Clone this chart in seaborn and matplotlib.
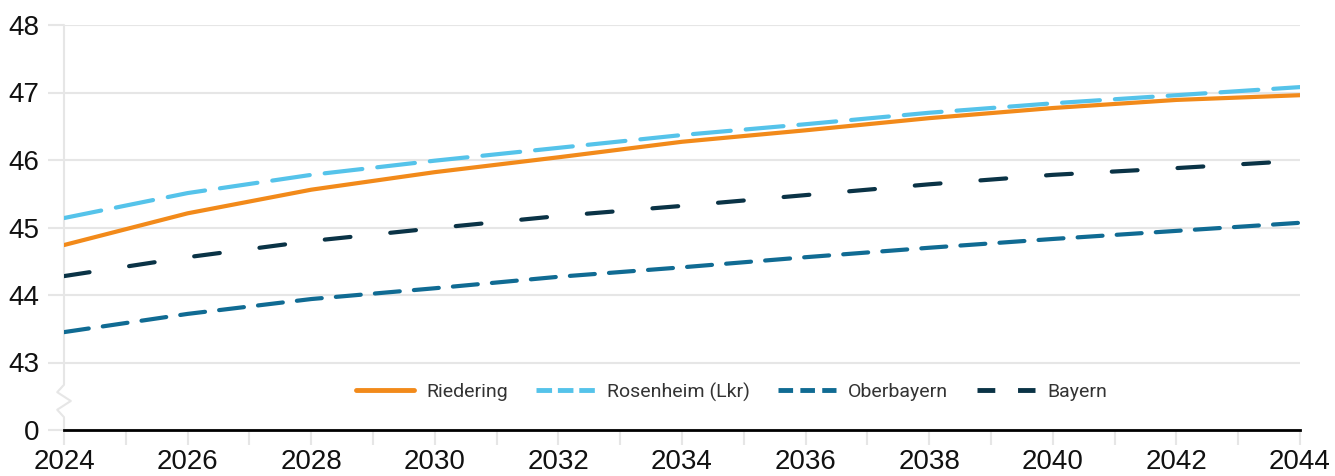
import pandas as pd
import seaborn as sns
import matplotlib.pyplot as plt
from matplotlib.lines import Line2D

# values
years = [2024, 2026, 2028, 2030, 2032, 2034, 2036, 2038, 2040, 2042, 2044]
riedering = [44.74, 45.21, 45.56, 45.82, 46.04, 46.27, 46.44, 46.62, 46.77, 46.89, 46.96]
rosenheim = [45.14, 45.51, 45.78, 45.99, 46.18, 46.37, 46.53, 46.70, 46.84, 46.96, 47.08]
oberbayern = [43.45, 43.72, 43.94, 44.10, 44.27, 44.41, 44.56, 44.70, 44.83, 44.95, 45.07]
bayern = [44.28, 44.56, 44.80, 44.99, 45.17, 45.32, 45.48, 45.64, 45.78, 45.88, 45.99]

series_names = ['Riedering', 'Rosenheim (Lkr)', 'Oberbayern', 'Bayern']
colors = ['#F28A1A', '#55C3EA', '#106B93', '#0A3346']
dash_styles = ['', (9.1, 3.6), (6, 3.4), (6.2, 9.6)]
legend_dashes = [None, (3.2, 1.2), (3.0, 1.5), (3.66, 4.68)]
y_ticks = [42, 43, 44, 45, 46, 47, 48]
y_tick_labels = ['0', '43', '44', '45', '46', '47', '48']

df = pd.DataFrame({'year': years,
                   series_names[0]: riedering,
                   series_names[1]: rosenheim,
                   series_names[2]: oberbayern,
                   series_names[3]: bayern})
df = df.melt(id_vars='year', var_name='series', value_name='value')

sns.set_theme(style='white')
plt.rcParams['font.family'] = ['Liberation Sans', 'DejaVu Sans']

grey = '#e6e6e6'
fig = plt.figure(figsize=(13.35, 4.76), dpi=100)
ax = fig.add_axes([64 / 1335, 46 / 476, 1236 / 1335, 405 / 476])

sns.lineplot(data=df, x='year', y='value', hue='series', style='series',
             hue_order=series_names, style_order=series_names,
             palette=dict(zip(series_names, colors)),
             dashes=dict(zip(series_names, dash_styles)),
             linewidth=3, legend=False, ax=ax)
for line in ax.lines:
    line.set_dash_capstyle('round')
    line.set_solid_capstyle('round')

# legend handles with shorter dashes like the original
handles = []
for c, d in zip(colors, legend_dashes):
    h = Line2D([], [], color=c, lw=3.5)
    if d is not None:
        h.set_dashes(d)
    handles.append(h)
leg = ax.legend(handles, series_names, loc='center', bbox_to_anchor=(0.54, 0.094),
                ncol=4, frameon=False, fontsize=14, handlelength=3.0,
                handletextpad=0.62, columnspacing=1.45)
for t in leg.get_texts():
    t.set_color('#333333')
    t.set_family(['Roboto', 'DejaVu Sans'])

ax.set_xlim(2024, 2044)
ax.set_ylim(42, 48)
ax.set_xticks(range(2024, 2045, 2))
ax.set_xticks(range(2025, 2044, 2), minor=True)
ax.set_yticks(y_ticks, y_tick_labels)
ax.set_xlabel('')
ax.set_ylabel('')

ax.tick_params(axis='y', left=True, length=11.5, width=1.5, color=grey,
               labelsize=20, pad=6, labelcolor='#111111')
ax.tick_params(axis='x', which='both', bottom=True, length=11, width=1.5, color=grey)
ax.tick_params(axis='x', labelsize=20, pad=3, labelcolor='#111111')
ax.grid(axis='y', color=grey, lw=1.5)
ax.set_axisbelow(True)

for s in ['top', 'right', 'left']:
    ax.spines[s].set_visible(False)
ax.spines['bottom'].set_color('black')
ax.spines['bottom'].set_linewidth(2)

# left axis line with a break marker between 0 and 43
dx = 0.11
ax.plot([2024, 2024, 2024 - dx, 2024 + dx, 2024 - dx, 2024, 2024],
        [48, 42.67, 42.56, 42.43, 42.30, 42.19, 42],
        color=grey, lw=1.5, zorder=0.5, clip_on=False)

plt.savefig('out.png', dpi=100)
